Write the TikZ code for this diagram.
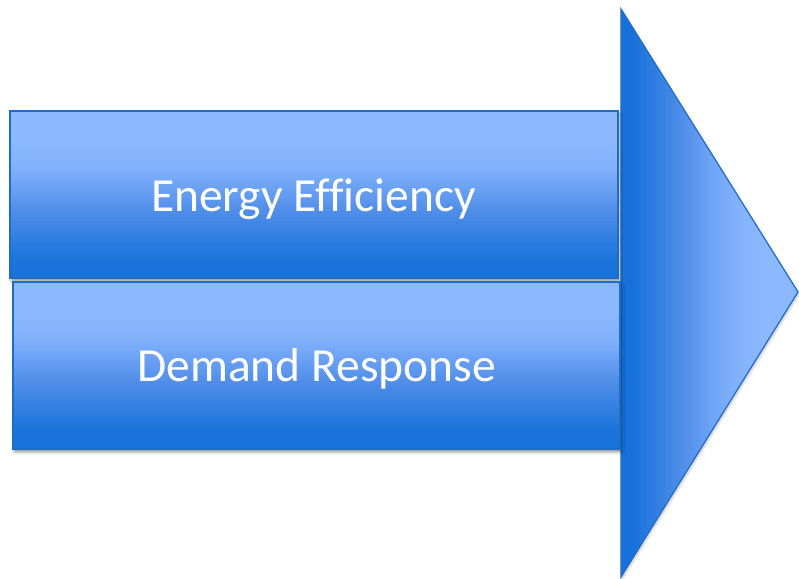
\documentclass[tikz,border=0pt]{standalone}
\usepackage{fontspec}
\setmainfont{Carlito}[Ligatures=CommonOff]
\usetikzlibrary{shadows.blur}

\definecolor{bluedark}{HTML}{1672DA}
\definecolor{bluemid}{HTML}{4F8DE9}
\definecolor{bluelight}{HTML}{8BB8FF}
\definecolor{blueedge}{HTML}{1D6CC6}

% vertical fill of the two bars: light on top, deep blue at the bottom
\pgfdeclareverticalshading{barshade}{100bp}{%
  color(0bp)=(bluedark); color(25bp)=(bluedark); color(31bp)=(bluedark!90!bluemid);
  color(45bp)=(bluemid); color(58bp)=(bluelight!85!bluemid);
  color(66bp)=(bluelight); color(100bp)=(bluelight)}
% horizontal fill of the arrow head: deep blue on the left, light at the tip
\pgfdeclarehorizontalshading{headshade}{100bp}{%
  color(0bp)=(bluedark); color(25bp)=(bluedark); color(28bp)=(bluedark);
  color(34bp)=(bluedark!60!bluemid); color(42bp)=(bluemid);
  color(51bp)=(bluemid!45!bluelight); color(59bp)=(bluelight!90!bluemid);
  color(66bp)=(bluelight); color(100bp)=(bluelight)}

\tikzset{
  bar/.style={rectangle, shading=barshade, draw=blueedge, line width=1.2pt,
    minimum height=167pt, inner sep=0pt,
    blur shadow={shadow xshift=1.5pt, shadow yshift=-3pt,
      shadow blur radius=3pt, shadow opacity=45}},
  head/.style={shading=headshade, draw=blueedge, line width=1.2pt,
    blur shadow={shadow xshift=1pt, shadow yshift=-2pt,
      shadow blur radius=2.5pt, shadow opacity=25}},
  label/.style={text=white, inner sep=0pt, font=\fontsize{47.5}{56}\selectfont}
}

\begin{document}
\begin{tikzpicture}[x=1pt, y=1pt]
  \useasboundingbox (0,0) rectangle (799,578);

  % arrow head
  \coordinate (headtop) at (621,569);
  \coordinate (headtip) at (798,286);
  \coordinate (headbot) at (621,1);
  \path[head] (headtop) -- (headtip) -- (headbot) -- cycle;

  % the two bars, with their captions set on a common baseline
  \node[bar, minimum width=608pt] (ee) at (314,383.5) {};
  \node[bar, minimum width=607pt] (dr) at (316.5,212.5) {};
  \node[label, anchor=base] (eetext) at (313.5,366) {Energy Efficiency};
  \node[label, anchor=base] (drtext) at (316.5,196) {Demand Response};
\end{tikzpicture}
\end{document}
